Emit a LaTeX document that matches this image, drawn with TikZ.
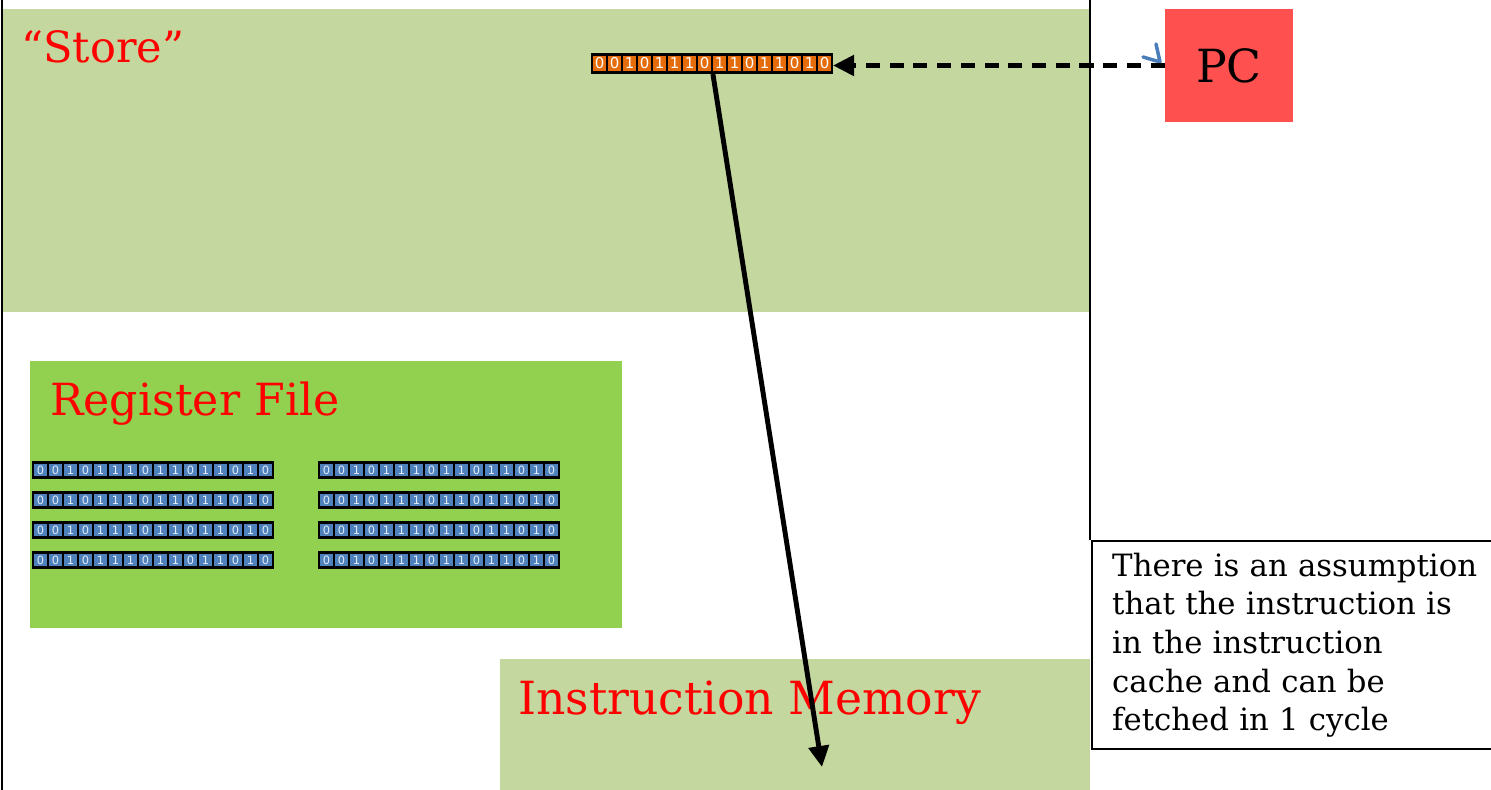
\documentclass[tikz,border=0pt]{standalone}
\usepackage{fontspec}
\setmainfont{DejaVu Serif}
\setsansfont{DejaVu Sans}
\usetikzlibrary{arrows.meta,positioning,calc}

\definecolor{storegreen}{HTML}{C4D79E}
\definecolor{regfilegreen}{HTML}{92D050}
\definecolor{pcred}{HTML}{FF5050}
\definecolor{bitblue}{HTML}{4F81BD}
\definecolor{bitorange}{HTML}{E46C0A}
\definecolor{tipblue}{HTML}{4A7EBB}

% a 16-bit register: name, left x, top y, cell style, bar height
\newcommand{\bitreg}[5]{%
  \node[regbar,minimum height=#5*0.02cm,anchor=north west] (#1) at (#2,#3) {};
  \foreach \b [count=\i from 0] in {0,0,1,0,1,1,1,0,1,1,0,1,1,0,1,0}
    \node[#4,minimum height=#5*0.02cm-3.5pt] (#1-\i) at ({#2+8.5+15*\i},{#3+#5/2}) {\b};
}

\begin{document}
\begin{tikzpicture}[x=0.02cm,y=-0.02cm]
\tikzstyle{area}=[rectangle,inner sep=0pt,outer sep=0pt,anchor=north west]
\tikzstyle{title}=[text=red,inner sep=0pt,anchor=base west,
font=\fontsize{26}{26}\selectfont]
\tikzstyle{regbar}=[rectangle,fill=black,inner sep=0pt,outer sep=0pt,
minimum width=242*0.02cm]
\tikzstyle{bluebit}=[rectangle,fill=bitblue,inner sep=0pt,
minimum width=12.5*0.02cm,text=white!85!bitblue,
font=\sffamily\fontsize{6.5}{6.5}\selectfont]
\tikzstyle{orangebit}=[bluebit,fill=bitorange,text=white,
font=\sffamily\fontsize{8.5}{8.5}\selectfont]
\tikzstyle{fetcharrow}=[line width=2.8pt,-{Triangle[length=0.42cm,width=0.4cm]}]
\useasboundingbox (0,0) rectangle (1491,790);

% storage areas
\node[area,fill=storegreen,minimum width=1088*0.02cm,minimum height=303*0.02cm] (store) at (2,9) {};
\node[title,font=\fontsize{24.5}{24.5}\selectfont] (storelbl) at (21,63) {“Store”};

\node[area,fill=regfilegreen,minimum width=592*0.02cm,minimum height=267*0.02cm] (regfile) at (30,361) {};
\node[title,font=\fontsize{25.2}{25.2}\selectfont] (regfilelbl) at (50,416) {Register File};

\node[area,fill=storegreen,minimum width=590*0.02cm,minimum height=131*0.02cm] (imem) at (500,659) {};
\node[title] (imemlbl) at (518,714) {Instruction Memory};

% frame
\draw[line width=1.4pt] (2,0) -- (2,790);
\draw[line width=1.4pt] (1090,0) -- (1090,540);

% registers
\bitreg{ir}{591}{53}{orangebit}{21}
\foreach \r in {0,1,2,3} {
  \bitreg{rA\r}{32}{461+30*\r}{bluebit}{18}
  \bitreg{rB\r}{318}{461+30*\r}{bluebit}{18}
}

% program counter
\node[rectangle,fill=pcred,minimum width=128*0.02cm,minimum height=113*0.02cm,
font=\fontsize{26}{26}\selectfont] (pc) at (1229,65.5) {PC};
\draw[tipblue,line width=2pt,line cap=round,line join=round]
  (1143,57) -- (1160,62) -- (1156,44);

% note
\node[draw,line width=1.4pt,anchor=north west,minimum width=402*0.02cm,
minimum height=208*0.02cm,text width=390*0.02cm,inner xsep=20*0.02cm,
align=left,font=\fontsize{17.5}{22}\selectfont] (note) at (1091,540)
{There is an assumption\\that the instruction is\\in the instruction\\cache and can be\\fetched in 1 cycle};

\coordinate (fetch) at (822,767);
\draw[fetcharrow,dash pattern=on 8pt off 5.5pt] (pc.west) -- (pc.west -| ir.east);
\draw[fetcharrow] (ir.south -| ir-8.west) -- (fetch);

\end{tikzpicture}
\end{document}
